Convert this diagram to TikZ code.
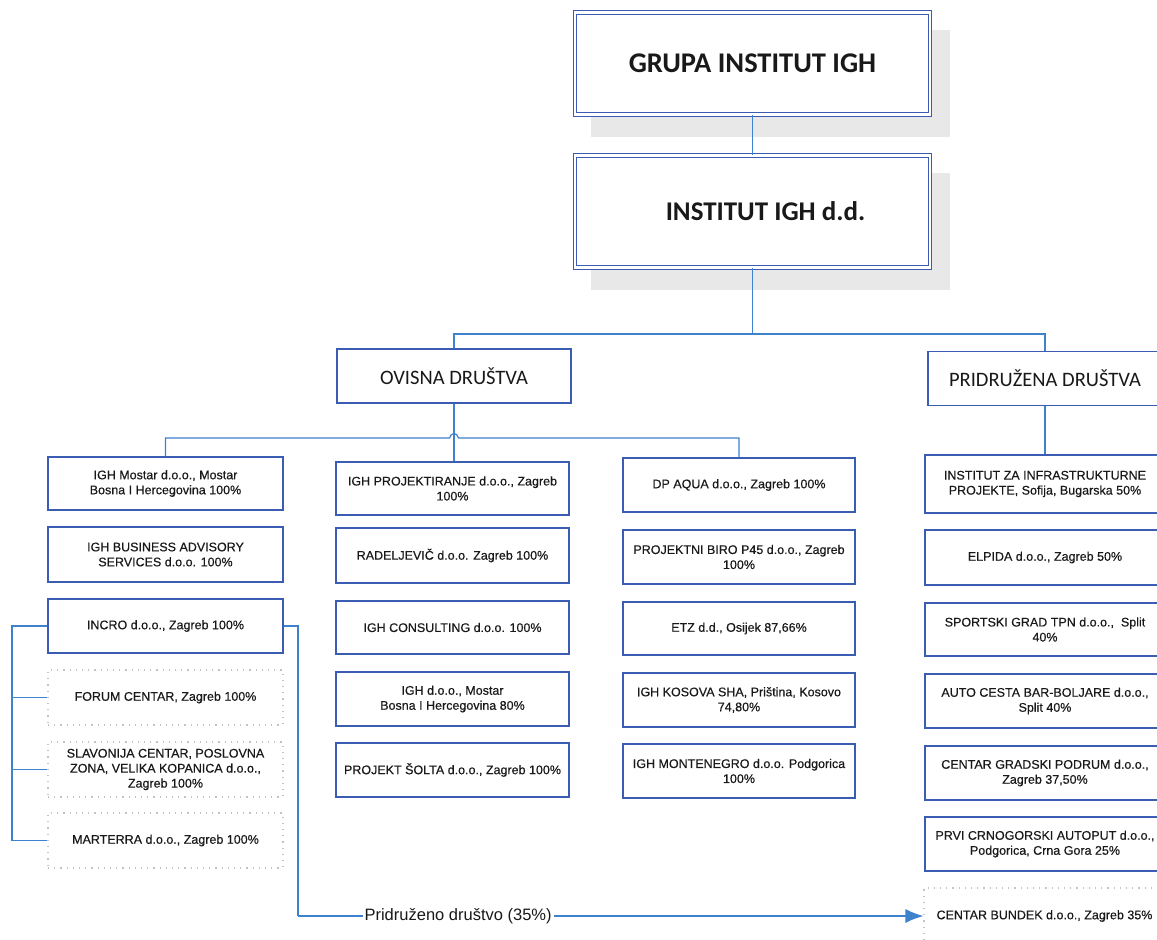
\documentclass[tikz,border=0pt]{standalone}
\usepackage{fontspec}
\setmainfont{Liberation Sans}
\newfontfamily\boxfont{Liberation Sans}[FakeBold=0.35]
\newfontfamily\calib{Carlito}
\usetikzlibrary{arrows.meta,calc}
\definecolor{boxblue}{RGB}{58,92,178}
\definecolor{lineblue}{RGB}{62,130,205}
\definecolor{shadowgray}{RGB}{232,232,232}
\definecolor{dotgray}{RGB}{195,195,195}
\definecolor{txt}{RGB}{25,25,25}
\begin{document}
\begin{tikzpicture}[x=1pt,y=-1pt,
 topbox/.style={draw=boxblue, line width=1.2pt, double=white, double distance=2.2pt, fill=white, minimum width=355pt, font=\calib\bfseries\fontsize{27}{32}\selectfont, text=txt, inner sep=0pt},
 hdr/.style={draw=boxblue, line width=1.3pt, fill=white, minimum width=234pt, minimum height=54pt, font=\calib\fontsize{20.5}{24}\selectfont, text=txt, inner sep=0pt},
 cbox/.style={draw=boxblue, line width=1.3pt, fill=white, align=center, font=\boxfont\fontsize{12.5}{15}\selectfont, text=txt, inner sep=0pt},
 dbox/.style={draw=dotgray, line width=1.1pt, dash pattern=on 1.2pt off 5pt, align=center, font=\boxfont\fontsize{12.5}{15}\selectfont, text=txt, inner sep=0pt},
 conn/.style={draw=lineblue, line width=1.2pt},
 lbl/.style={fill=white, font=\fontsize{16.5}{19}\selectfont, text=txt, inner sep=2pt},
 colL/.style={minimum width=235pt},
 colM/.style={minimum width=233pt},
 colR/.style={minimum width=232pt},
 colX/.style={minimum width=240pt}
]
\clip (0,0) rectangle (1157,940);
\fill[white] (0,0) rectangle (1157,940);
% shadows
\fill[shadowgray] (591,30) rectangle (950,137);
\fill[shadowgray] (591,173) rectangle (950,290);
% top boxes
\node[topbox, minimum height=102pt, font=\calib\bfseries\fontsize{28.5}{33}\selectfont] (grupa) at (752.5,63.5) {GRUPA INSTITUT IGH};
\node[topbox, minimum height=112pt] (igh) at (752.5,211.5) {\hspace*{26pt}INSTITUT IGH d.d.};
% headers
\node[hdr] (ovisna) at (454,376) {OVISNA DRUŠTVA};
\node[hdr] (pridr) at (1045,378.5) {PRIDRUŽENA DRUŠTVA};
% left column
\node[cbox, colL, minimum height=53pt] (mostar) at (165.5,483.5) {IGH Mostar d.o.o., Mostar\\Bosna I Hercegovina 100\%};
\node[cbox, colL, minimum height=55pt] (business) at (165.5,554.5) {IGH BUSINESS ADVISORY\\SERVICES d.o.o. 100\%};
\node[cbox, colL, minimum height=54pt] (incro) at (165.5,626) {INCRO d.o.o., Zagreb 100\%};
\node[dbox, colL, minimum height=55pt] (forum) at (165.5,697.5) {FORUM CENTAR, Zagreb 100\%};
\node[dbox, colL, minimum height=55pt] (slav) at (165.5,769.5) {SLAVONIJA CENTAR, POSLOVNA\\ZONA, VELIKA KOPANICA d.o.o.,\\Zagreb 100\%};
\node[dbox, colL, minimum height=55pt] (marterra) at (165.5,840.5) {MARTERRA d.o.o., Zagreb 100\%};
% middle column
\node[cbox, colM, minimum height=53pt] (proj) at (452.5,488.5) {IGH PROJEKTIRANJE d.o.o., Zagreb\\100\%};
\node[cbox, colM, minimum height=55pt] (radelj) at (452.5,555.5) {RADELJEVIČ d.o.o. Zagreb 100\%};
\node[cbox, colM, minimum height=53pt] (consult) at (452.5,627.5) {IGH CONSULTING d.o.o. 100\%};
\node[cbox, colM, minimum height=54pt] (ighmostar) at (452.5,699) {IGH d.o.o., Mostar\\Bosna I Hercegovina 80\%};
\node[cbox, colM, minimum height=54pt] (solta) at (452.5,770) {PROJEKT ŠOLTA d.o.o., Zagreb 100\%};
% right-middle column
\node[cbox, colR, minimum height=54pt] (dpaqua) at (739,485) {DP AQUA d.o.o., Zagreb 100\%};
\node[cbox, colR, minimum height=54pt] (p45) at (739,557) {PROJEKTNI BIRO P45 d.o.o., Zagreb\\100\%};
\node[cbox, colR, minimum height=53pt] (etz) at (739,628.5) {ETZ d.d., Osijek 87,66\%};
\node[cbox, colR, minimum height=54pt] (kosova) at (739,700) {IGH KOSOVA SHA, Priština, Kosovo\\74,80\%};
\node[cbox, colR, minimum height=54pt] (monte) at (739,771) {IGH MONTENEGRO d.o.o. Podgorica\\100\%};
% right column
\node[cbox, colX, minimum height=58pt] (infra) at (1045,484) {INSTITUT ZA INFRASTRUKTURNE\\PROJEKTE, Sofija, Bugarska 50\%};
\node[cbox, colX, minimum height=55pt] (elpida) at (1045,557.5) {ELPIDA d.o.o., Zagreb 50\%};
\node[cbox, colX, minimum height=53pt] (sport) at (1045,629.5) {SPORTSKI GRAD TPN d.o.o.,\ \ Split\\40\%};
\node[cbox, colX, minimum height=54pt] (autoc) at (1045,701) {AUTO CESTA BAR-BOLJARE d.o.o.,\\Split 40\%};
\node[cbox, colX, minimum height=54pt] (podrum) at (1045,773) {CENTAR GRADSKI PODRUM d.o.o.,\\Zagreb 37,50\%};
\node[cbox, colX, minimum height=54pt] (prvi) at (1045,844) {PRVI CRNOGORSKI AUTOPUT d.o.o.,\\Podgorica, Crna Gora 25\%};
\node[dbox, minimum width=241pt, minimum height=56pt] (bundek) at (1044.5,916) {CENTAR BUNDEK d.o.o., Zagreb 35\%};
% connectors
\coordinate (j1) at (752.5,334);
\draw[conn] (grupa.south) -- (igh.north);
\draw[conn] (igh.south) -- (j1);
\draw[conn] (ovisna.north) |- (j1) -| (pridr.north);
\draw[conn] (pridr.south) -- (infra.north);
\draw[conn] (ovisna.south) -- (ovisna.south |- proj.north);
\coordinate (hopL) at (449.5,438);
\coordinate (hopR) at (458.5,438);
\draw[conn] (mostar.north) |- (hopL) .. controls (451,432) and (457,432) .. (hopR) -| (dpaqua.north);
\coordinate (brk) at (12,0);
\draw[conn] (incro.west) -| (brk |- marterra.west) -- (marterra.west);
\draw[conn] (brk |- forum.west) -- (forum.west);
\draw[conn] (brk |- slav.west) -- (slav.west);
\coordinate (rk) at (298,0);
\draw[conn] (incro.east) -| (rk |- bundek.west) coordinate (bend);
\draw[conn, -{Latex[length=18pt,width=14pt]}] (bend) -- node[lbl, pos=0.256] {Pridruženo društvo (35\%)} (bundek.west);
\end{tikzpicture}
\end{document}
